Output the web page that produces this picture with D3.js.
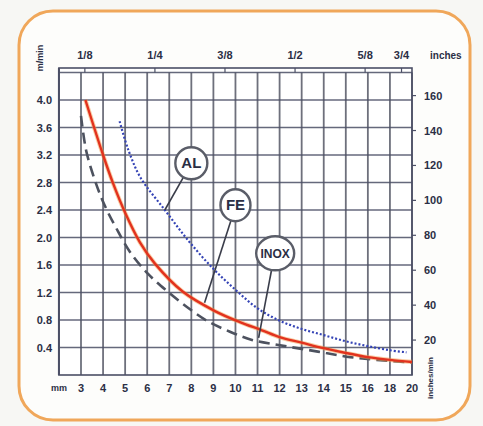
<!DOCTYPE html>
<html><head><meta charset="utf-8">
<script src="https://cdn.jsdelivr.net/npm/d3@7"></script>
<style>
html,body{margin:0;padding:0;background:#f7f7f4;}
svg{display:block;}
text{font-family:"Liberation Sans Narrow","Liberation Sans",Arial,sans-serif;font-weight:bold;fill:#2b2f45;}
</style></head>
<body>
<script>
// ---- data ----
const mmCats = [3,4,5,6,7,8,9,10,11,12,13,14,15,16,18,20];
const leftTicks = [0.4,0.8,1.2,1.6,2.0,2.4,2.8,3.2,3.6,4.0];
const gridRows = [0.4,0.8,1.2,1.6,2.0,2.4,2.8,3.2,3.6,4.0,4.4];
const rightTicks = [20,40,60,80,100,120,140,160];
const inchLabels = ["1/8","1/4","3/8","1/2","5/8","3/4"];
const inchValues = [0.125,0.25,0.375,0.5,0.625,0.75];

const feMM  = [3.2,4.0,4.45,5.0,5.67,6.35,7.62,9.07,10.2,11.2,12,13,14,15,16,18,20];
const feVal = [4.0,3.2,2.79,2.36,1.93,1.62,1.21,0.93,0.77,0.65,0.55,0.47,0.39,0.32,0.26,0.22,0.19];

const alMM  = [4.75,5.15,5.7,6.8,7.85,8.95,10,11,12,13,14,15,16,18,19.5];
const alVal = [3.69,3.27,2.87,2.4,1.96,1.56,1.24,0.97,0.79,0.67,0.58,0.49,0.42,0.36,0.33];

const inoxMM  = [3.0,3.23,3.59,4.04,4.59,5.22,6.04,6.9,7.8,8.7,9.75,10.75,11.88,13,14.1,15.2,16.8,20];
const inoxVal = [3.77,3.27,2.87,2.49,2.14,1.79,1.47,1.22,0.99,0.79,0.63,0.51,0.44,0.38,0.32,0.26,0.22,0.18];

const labels = ["AL","FE","INOX"];
const labelMM = [8.0,10.0,11.8];
const labelVal = [3.08,2.47,1.77];
const leaderMM = [6.8,8.6,11.05];
const leaderVal = [2.4,1.05,0.54];

// ---- drawing ----
const W=483,H=426;
const svg=d3.select("body").append("svg").attr("width",W).attr("height",H);

svg.append("rect").attr("x",19).attr("y",11).attr("width",451).attr("height",409)
  .attr("rx",34).attr("ry",34).attr("fill","#fdfdfb").attr("stroke","#f0a75a").attr("stroke-width",3);

const xp = d3.scalePoint().domain(mmCats).range([81,412]);
const x = d3.scaleLinear().domain(mmCats).range(mmCats.map(d=>xp(d)));
const step = xp.step();
const pLeft = xp(3)-step, pRight = xp(20);
const y = d3.scaleLinear().domain([0,4.4]).range([375,72.5]);
const yR = d3.scaleLinear().domain([0,4.4*39.37]).range([375,72.5]);
const pTop = 68, pBottom = 375;

const g = svg.append("g");
g.append("rect").attr("x",pLeft).attr("y",pTop).attr("width",pRight-pLeft).attr("height",pBottom-pTop).attr("fill","#ffffff");

const gridCol="#4b4f66";
g.selectAll("line.v").data(mmCats).join("line")
  .attr("x1",d=>xp(d)).attr("x2",d=>xp(d)).attr("y1",y(4.4)).attr("y2",pBottom)
  .attr("stroke","#555866").attr("stroke-width",1.8).attr("opacity",0.85);
g.selectAll("line.h").data(gridRows).join("line")
  .attr("x1",pLeft).attr("x2",pRight).attr("y1",d=>y(d)).attr("y2",d=>y(d))
  .attr("stroke",gridCol).attr("stroke-width",1.6).attr("opacity",0.85);
g.append("rect").attr("x",pLeft).attr("y",pTop).attr("width",pRight-pLeft).attr("height",pBottom-pTop)
  .attr("fill","none").attr("stroke",gridCol).attr("stroke-width",1.6);
g.append("line").attr("x1",pLeft).attr("x2",pLeft).attr("y1",pTop).attr("y2",pBottom).attr("stroke",gridCol).attr("stroke-width",2);

// top inches ticks
g.selectAll("line.it").data(inchValues).join("line")
  .attr("x1",d=>x(d*25.4)).attr("x2",d=>x(d*25.4)).attr("y1",pTop).attr("y2",y(4.4))
  .attr("stroke",gridCol).attr("stroke-width",1.2);
svg.selectAll("text.il").data(inchLabels).join("text")
  .attr("x",(d,i)=>x(inchValues[i]*25.4)).attr("y",59).attr("text-anchor","middle")
  .attr("font-size",11).text(d=>d);
svg.append("text").attr("x",430).attr("y",59).attr("font-size",10).text("inches");

// left axis labels
svg.selectAll("text.yl").data(leftTicks).join("text")
  .attr("x",52).attr("y",d=>y(d)+4).attr("text-anchor","end").attr("font-size",11).text(d=>d.toFixed(1));
svg.append("text").attr("transform","translate(43,58) rotate(-90)").attr("text-anchor","middle")
  .attr("font-size",9).text("m/min");

// right axis
svg.selectAll("line.rt").data(rightTicks).join("line")
  .attr("x1",pRight).attr("x2",pRight+4).attr("y1",d=>yR(d)).attr("y2",d=>yR(d))
  .attr("stroke",gridCol).attr("stroke-width",1.2);
svg.selectAll("text.rl").data(rightTicks).join("text")
  .attr("x",424).attr("y",d=>yR(d)+4).attr("font-size",11).text(d=>d);
svg.append("text").attr("transform","translate(433,378) rotate(-90)").attr("text-anchor","middle")
  .attr("font-size",8).text("inches/min");

// bottom labels
svg.selectAll("text.xl").data(mmCats).join("text")
  .attr("x",d=>xp(d)).attr("y",392).attr("text-anchor","middle").attr("font-size",11).text(d=>d);
svg.append("text").attr("x",59).attr("y",391).attr("text-anchor","middle").attr("font-size",9).text("mm");

// curves
const line = d3.line().x(d=>x(d[0])).y(d=>y(d[1])).curve(d3.curveCatmullRom.alpha(0.5));
const zip=(a,b)=>a.map((v,i)=>[v,b[i]]);
g.append("path").datum(zip(inoxMM,inoxVal)).attr("d",line).attr("fill","none")
  .attr("stroke","#4d525f").attr("stroke-width",2.6).attr("stroke-dasharray","11,6");
g.append("path").datum(zip(alMM,alVal)).attr("d",line).attr("fill","none")
  .attr("stroke","#3443b5").attr("stroke-width",2.2).attr("stroke-dasharray","2,2");
g.append("path").datum(zip(feMM,feVal)).attr("d",line).attr("fill","none")
  .attr("stroke","#f39a4a").attr("stroke-width",4.2).attr("opacity",0.5);
g.append("path").datum(zip(feMM,feVal)).attr("d",line).attr("fill","none")
  .attr("stroke","#e2321e").attr("stroke-width",2.4);

// callouts
const rx=[16,15,19], ry=[16,16,17];
labels.forEach((t,i)=>{
  const cx=x(labelMM[i]), cy=y(labelVal[i]);
  const lx=x(leaderMM[i]), ly=y(leaderVal[i]);
  const ang=Math.atan2(ly-cy,lx-cx);
  g.append("line").attr("x1",cx+rx[i]*Math.cos(ang)).attr("y1",cy+ry[i]*Math.sin(ang))
    .attr("x2",lx).attr("y2",ly).attr("stroke","#3a3d4a").attr("stroke-width",1.6);
  g.append("ellipse").attr("cx",cx).attr("cy",cy).attr("rx",rx[i]).attr("ry",ry[i])
    .attr("fill","#ffffff").attr("stroke","#5a5d68").attr("stroke-width",2.4);
  g.append("text").attr("x",cx).attr("y",cy+5).attr("text-anchor","middle")
    .attr("font-size",i===2?12:15).attr("fill","#23262f").text(t);
});
</script>
</body></html>
